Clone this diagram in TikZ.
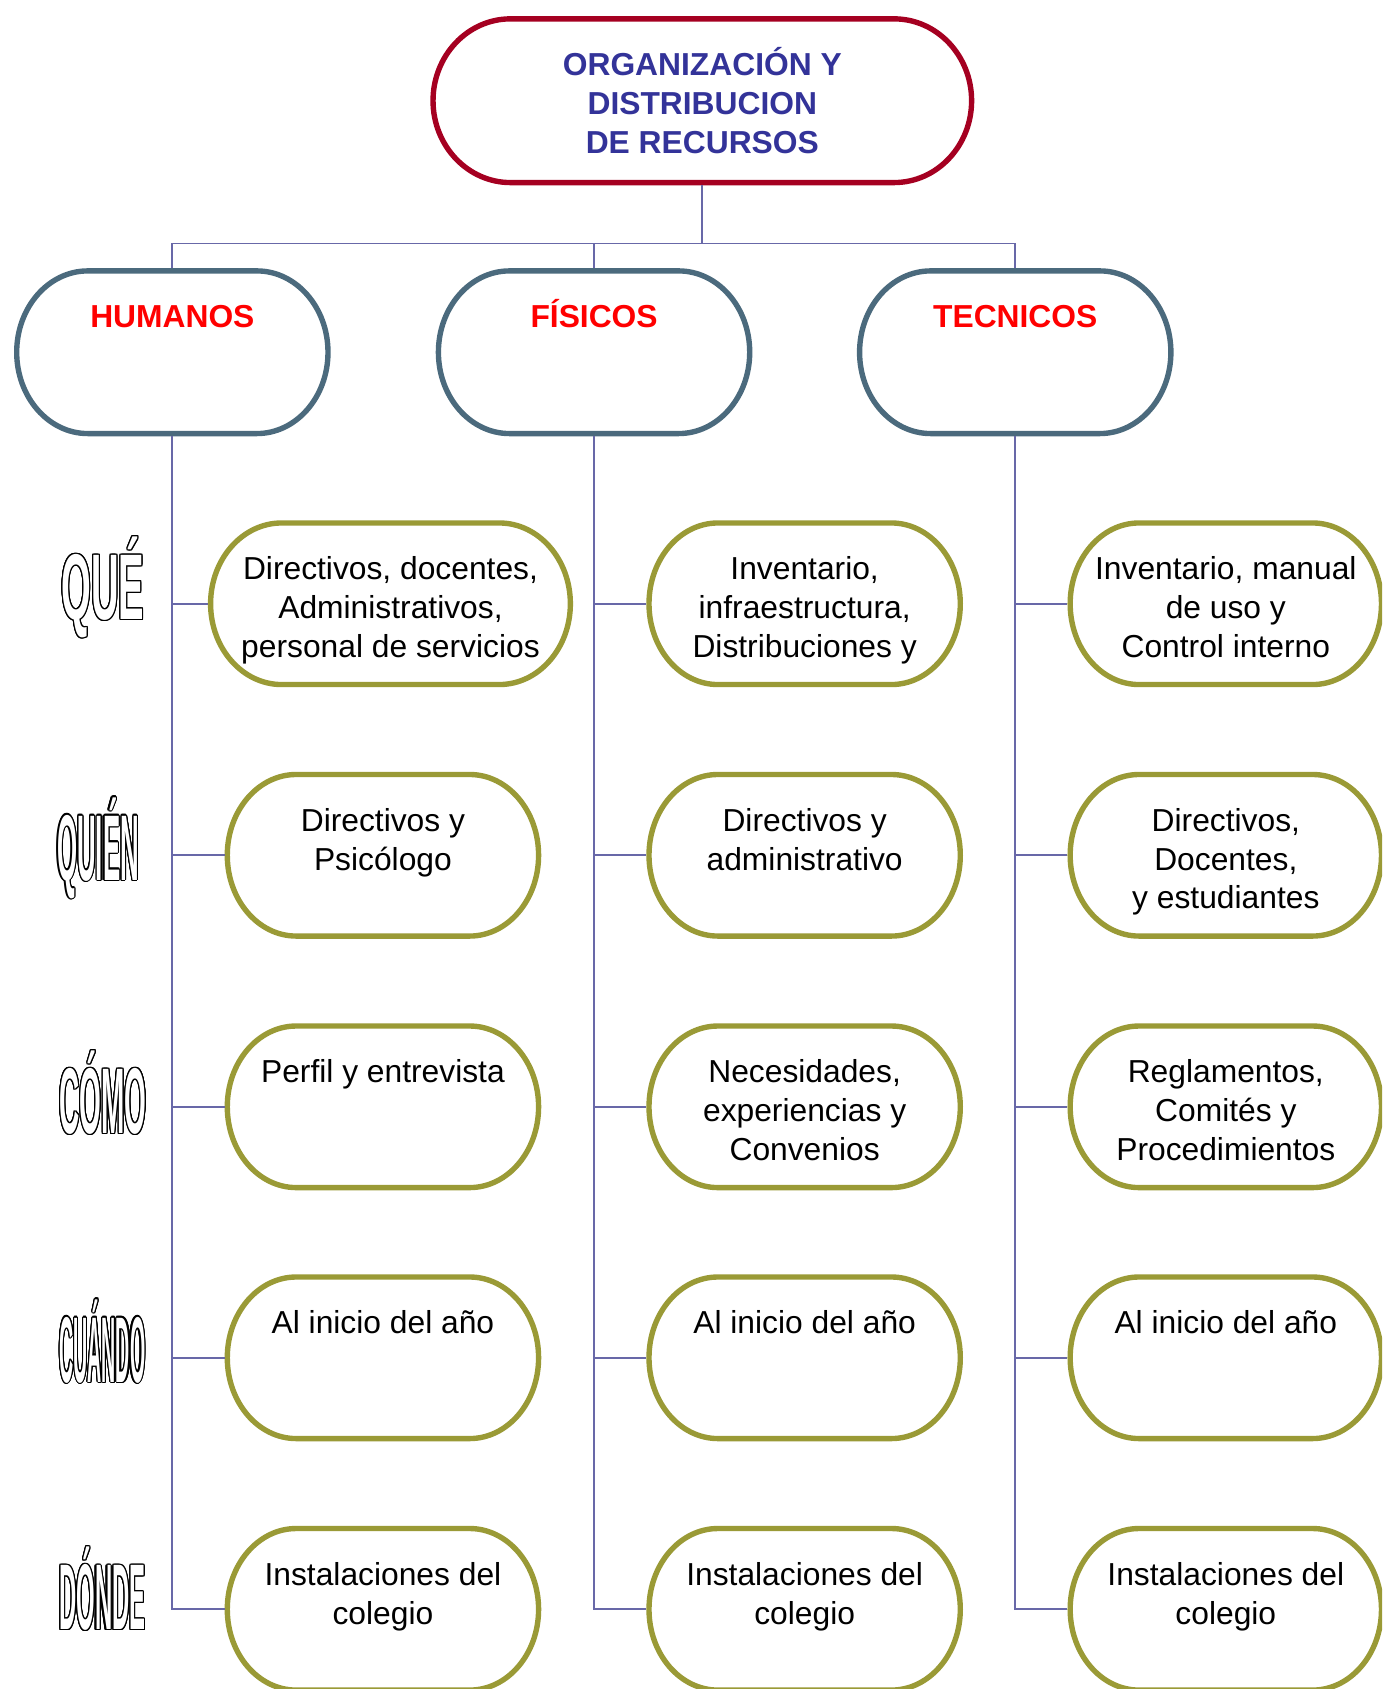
\documentclass[tikz,border=0pt]{standalone}
\usepackage{fontspec}
\setmainfont{Liberation Sans}
\usepackage{contour}
\contourlength{1.1pt}
\newfontfamily\lblA{Liberation Sans}[FakeStretch=0.41]
\newfontfamily\lblB{Liberation Sans}[FakeStretch=0.277]
\newfontfamily\lblC{Liberation Sans}[FakeStretch=0.30]
\newfontfamily\lblD{Liberation Sans}[FakeStretch=0.21]
\newfontfamily\lblE{Liberation Sans}[FakeStretch=0.256]
\definecolor{topred}{HTML}{A50021}
\definecolor{catblue}{HTML}{4B6A7D}
\definecolor{olivec}{HTML}{9A9A36}
\definecolor{titleblue}{HTML}{333399}
\definecolor{catred}{HTML}{FF0000}
\definecolor{conncol}{HTML}{6868A8}
\newcommand{\fs}{\rule{0pt}{30pt}}
\newcommand{\lbltext}[2]{{#1\bfseries\fontsize{86.6pt}{90pt}\selectfont\textcolor{white}{\contour{black}{#2}}}}
% elliptical-cornered box: node name, colour, width, half height, corner x radius
\newcommand{\ebox}[5]{%
  \draw[line width=5pt, draw=#2, fill=white]
    ([shift={(-#3/2+#5,-#4)}]#1.center) -- ([shift={(#3/2-#5,-#4)}]#1.center)
    arc[start angle=90, end angle=-90, x radius=#5pt, y radius=#4pt]
    -- ([shift={(-#3/2+#5,#4)}]#1.center)
    arc[start angle=270, end angle=90, x radius=#5pt, y radius=#4pt] -- cycle;}
\begin{document}
\begin{tikzpicture}[x=1pt,y=-1pt,
  box/.style={draw=none, rectangle, inner sep=0pt, outer sep=2.5pt},
  topbox/.style={box, minimum width=500pt, minimum height=152pt},
  catbox/.style={box, minimum width=289pt, minimum height=151pt},
  itembox/.style={box, minimum width=289pt, minimum height=150pt},
  txt/.style={anchor=north, inner sep=0pt, align=center, yshift=-25pt,
    font=\fontsize{29.5pt}{36pt}\selectfont},
  titletxt/.style={txt, font=\fontsize{29.5pt}{36pt}\selectfont\bfseries, text=titleblue},
  cattxt/.style={txt, font=\fontsize{29.5pt}{36pt}\selectfont\bfseries, text=catred},
  lbl/.style={anchor=base, inner sep=0pt},
  conn/.style={draw=conncol, line width=1.7pt}
]
\useasboundingbox (0,0) rectangle (1283,1568);
\fill[white] (0,0) rectangle (1283,1568);
\clip (0,0) rectangle (1283,1568);

% title and categories
\node[topbox] (top) at (652,93.5) {};
\node[catbox] (hum) at (160,327) {};
\node[catbox] (fis) at (551.5,327) {};
\node[catbox] (tec) at (942.5,327) {};
\coordinate (bus) at (652,226);

% column 1
\node[itembox, minimum width=334pt] (h1) at (362.5,560.5) {};
\node[itembox] (h2) at (355.5,794) {};
\node[itembox] (h3) at (355.5,1027.5) {};
\node[itembox] (h4) at (355.5,1260.5) {};
\node[itembox] (h5) at (355.5,1494) {};
% column 2
\node[itembox] (f1) at (747,560.5) {};
\node[itembox] (f2) at (747,794) {};
\node[itembox] (f3) at (747,1027.5) {};
\node[itembox] (f4) at (747,1260.5) {};
\node[itembox] (f5) at (747,1494) {};
% column 3
\node[itembox] (t1) at (1138,560.5) {};
\node[itembox] (t2) at (1138,794) {};
\node[itembox] (t3) at (1138,1027.5) {};
\node[itembox] (t4) at (1138,1260.5) {};
\node[itembox] (t5) at (1138,1494) {};

% outlines
\ebox{top}{topred}{500}{76}{72}
\foreach \n in {hum,fis,tec}{\ebox{\n}{catblue}{289}{75.5}{66}}
\ebox{h1}{olivec}{334}{75}{66}
\foreach \n in {h2,h3,h4,h5,f1,f2,f3,f4,f5,t1,t2,t3,t4,t5}{\ebox{\n}{olivec}{289}{75}{64}}

% texts
\node[titletxt] (topt) at (top.north) {\fs ORGANIZACIÓN Y\\DISTRIBUCION\\DE RECURSOS};
\node[cattxt] (humt) at (hum.north) {\fs HUMANOS};
\node[cattxt] (fist) at (fis.north) {\fs FÍSICOS};
\node[cattxt] (tect) at (tec.north) {\fs TECNICOS};
\node[txt] (h1t) at (h1.north) {\fs Directivos, docentes,\\Administrativos,\\personal de servicios};
\node[txt] (h2t) at (h2.north) {\fs Directivos y\\Psicólogo};
\node[txt] (h3t) at (h3.north) {\fs Perfil y entrevista};
\node[txt] (h4t) at (h4.north) {\fs Al inicio del año};
\node[txt] (h5t) at (h5.north) {\fs Instalaciones del\\colegio};
\node[txt] (f1t) at (f1.north) {\fs Inventario,\\infraestructura,\\Distribuciones y};
\node[txt] (f2t) at (f2.north) {\fs Directivos y\\administrativo};
\node[txt] (f3t) at (f3.north) {\fs Necesidades,\\experiencias y\\Convenios};
\node[txt] (f4t) at (f4.north) {\fs Al inicio del año};
\node[txt] (f5t) at (f5.north) {\fs Instalaciones del\\colegio};
\node[txt] (t1t) at (t1.north) {\fs Inventario, manual\\de uso y\\Control interno};
\node[txt] (t2t) at (t2.north) {\fs Directivos,\\Docentes,\\y estudiantes};
\node[txt] (t3t) at (t3.north) {\fs Reglamentos,\\Comités y\\Procedimientos};
\node[txt] (t4t) at (t4.north) {\fs Al inicio del año};
\node[txt] (t5t) at (t5.north) {\fs Instalaciones del\\colegio};

% row labels
\node[lbl] (lque) at (95.5,575) {\lbltext{\lblA}{QUÉ}};
\node[lbl] (lquien) at (91,817) {\lbltext{\lblB}{QUIÉN}};
\node[lbl] (lcomo) at (95.5,1052) {\lbltext{\lblC}{CÓMO}};
\node[lbl] (lcuando) at (95,1283) {\lbltext{\lblD}{CUÁNDO}};
\node[lbl] (ldonde) at (95,1513) {\lbltext{\lblE}{DÓNDE}};

% connectors
\draw[conn] (top.south) -- (bus);
\draw[conn] (hum.north) -- (hum.north |- bus) -- (tec.north |- bus) -- (tec.north);
\draw[conn] (fis.north) -- (fis.north |- bus);
\draw[conn] (hum.south) -- (hum.south |- h5.west) -- (h5.west);
\draw[conn] (fis.south) -- (fis.south |- f5.west) -- (f5.west);
\draw[conn] (tec.south) -- (tec.south |- t5.west) -- (t5.west);
\foreach \r in {1,2,3,4}{
  \draw[conn] (hum.south |- h\r.west) -- (h\r.west);
  \draw[conn] (fis.south |- f\r.west) -- (f\r.west);
  \draw[conn] (tec.south |- t\r.west) -- (t\r.west);
}
\end{tikzpicture}
\end{document}
